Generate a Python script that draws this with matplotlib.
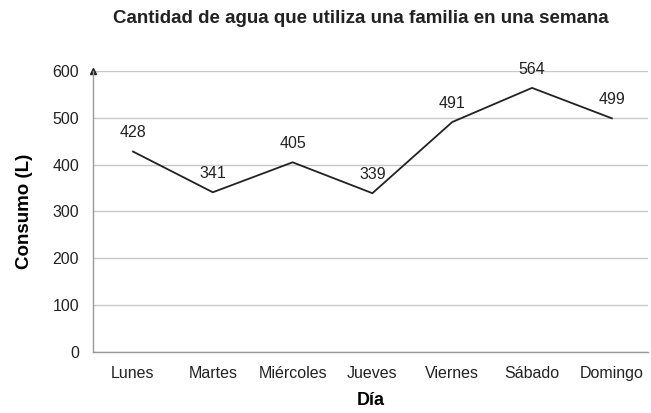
import matplotlib.pyplot as plt

# data
dias = ["Lunes", "Martes", "Miércoles", "Jueves", "Viernes", "Sábado", "Domingo"]
consumo = [428, 341, 405, 339, 491, 564, 499]
yticks = [0, 100, 200, 300, 400, 500, 600]

plt.rcParams['font.family'] = ['Liberation Sans', 'DejaVu Sans']

fig = plt.figure(figsize=(6.51, 4.13), dpi=100)
ax = fig.add_axes([0.143, 0.148, 0.852, 0.68])

x = list(range(len(dias)))
ax.plot(x, consumo, color="#222222", lw=1.3)
for xi, v in zip(x, consumo):
    ax.annotate(str(v), (xi, v), xytext=(0, 8), textcoords="offset points",
                ha="center", va="bottom", fontsize=11.5, color="#222222")

ax.set_ylim(0, 600)
ax.set_xlim(-0.5, 6.45)
ax.set_yticks(yticks)
ax.set_xticks(x)
ax.set_xticklabels(dias)
ax.tick_params(length=0, labelsize=11.5, colors="#222222", pad=10)
ax.tick_params(axis="y", pad=10)
ax.yaxis.grid(True, color="#c8c8c8", lw=1)
ax.set_axisbelow(True)
for s in ["top", "right"]:
    ax.spines[s].set_visible(False)
for s in ["left", "bottom"]:
    ax.spines[s].set_color("#999999")
    ax.spines[s].set_linewidth(1)

# small arrow at the top of the y axis
ax.plot(-0.5, 600, marker="^", color="#222222", markersize=4, clip_on=False)

ax.set_ylabel("Consumo (L)", fontsize=13.5, fontweight="bold", labelpad=14)
ax.set_xlabel("Día", fontsize=13, fontweight="bold", labelpad=8)
fig.text(0.555, 0.955, "Cantidad de agua que utiliza una familia en una semana",
         ha="center", va="center", fontsize=13.5, fontweight="bold", color="#222222")

fig.savefig("out.png", dpi=100)
